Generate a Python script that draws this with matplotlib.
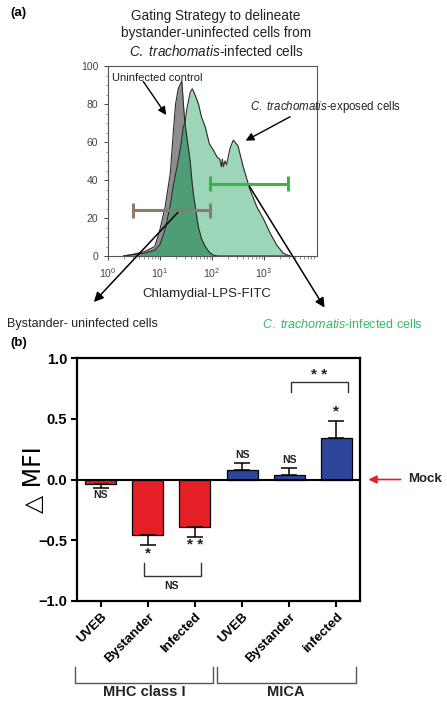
import matplotlib
matplotlib.use("Agg")
import matplotlib.pyplot as plt
import numpy as np

plt.rcParams['font.family'] = ['Liberation Sans', 'DejaVu Sans']
plt.rcParams['mathtext.fontset'] = 'custom'
plt.rcParams['mathtext.rm'] = 'Liberation Sans'
plt.rcParams['mathtext.it'] = 'Liberation Sans:italic'

# ---- panel (a): histogram (x as log10 of FITC) ----
hist_log = [0.30, 0.50, 0.70, 0.90, 1.00, 1.10, 1.20, 1.25, 1.30, 1.35, 1.40, 1.42,
            1.45, 1.48, 1.52, 1.58, 1.62, 1.64, 1.70, 1.74, 1.80, 1.87, 1.95, 2.02,
            2.10, 2.15, 2.18, 2.20, 2.22, 2.25, 2.28, 2.35, 2.41, 2.50, 2.60, 2.73,
            2.86, 3.00, 3.12, 3.24, 3.37, 3.50]
uninfected = [0, 1, 2.3, 5, 14, 26, 44, 63, 80, 88, 91, 92,
              80, 70, 62, 50, 38, 33, 22, 15, 9, 5, 2, 0.5,
              0, 0, 0, 0, 0, 0, 0, 0, 0, 0, 0, 0,
              0, 0, 0, 0, 0, 0]
exposed = [0, 0.8, 1.5, 3, 6, 14, 27, 36, 43, 50, 58, 62,
           68, 70, 78, 86, 88, 87, 83, 80, 73, 68, 59, 56,
           52, 51, 47, 51, 47, 50, 48, 57, 61, 58, 47, 35,
           26, 19, 12, 6, 1.4, 0]
gate_bystander = [3, 92]
gate_bystander_y = 24
gate_infected = [92, 2900]
gate_infected_y = 38

# ---- panel (b): delta MFI ----
categories = ['UVEB', 'Bystander', 'Infected', 'UVEB', 'Bystander', 'infected']
delta_mfi = [-0.036, -0.453, -0.387, 0.082, 0.038, 0.345]
sem = [0.034, 0.090, 0.088, 0.055, 0.058, 0.138]
bar_colors = ['#e41f26'] * 3 + ['#2c459a'] * 3
groups = ['MHC class I', 'MICA']

W, H = 447, 704
fig = plt.figure(figsize=(W / 100, H / 100), dpi=100)


def px(x, y):
    return x / W, 1 - y / H


CT = r'$\mathit{C.\ trachomatis}$'

# ================= (a) =================
ax1 = fig.add_axes([108 / W, 1 - 256 / H, 209 / W, 190 / H])
xs = 10 ** np.array(hist_log)
g = np.array(uninfected)
e = np.array(exposed)
ax1.fill_between(xs, g, color='#8e8e8e', lw=0)
ax1.fill_between(xs, e, color='#9dd5b8', lw=0)
ax1.fill_between(xs, np.minimum(g, e), color='#4f9d76', lw=0)
ax1.plot(xs, g, color='#2b2b2b', lw=0.8)
ax1.plot(xs, e, color='#2b2b2b', lw=0.8)

ax1.plot(gate_bystander, [gate_bystander_y] * 2, color='#8c7a6c', lw=2.2)
ax1.vlines(gate_bystander, gate_bystander_y - 4, gate_bystander_y + 4, color='#8c7a6c', lw=2.2)
ax1.plot(gate_infected, [gate_infected_y] * 2, color='#3ab54a', lw=2.2)
ax1.vlines(gate_infected, gate_infected_y - 4, gate_infected_y + 4, color='#3ab54a', lw=2.2)

ax1.set_xscale('log')
ax1.set_xlim(1, 10 ** 4.02)
ax1.set_ylim(0, 100)
ax1.set_xticks([1, 10, 100, 1000])
ax1.set_xticklabels([r'$10^{0}$', r'$10^{1}$', r'$10^{2}$', r'$10^{3}$'])
ax1.set_yticks([0, 20, 40, 60, 80, 100])
ax1.set_yticks(np.arange(0, 101, 5), minor=True)
for s in ax1.spines.values():
    s.set_color('#555555')
    s.set_linewidth(0.8)
ax1.tick_params(labelsize=7.5, colors='#444444', length=3, width=0.7, pad=4)
ax1.tick_params(which='minor', length=1.8, width=0.5, colors='#666666')
ax1.set_xlabel('Chlamydial-LPS-FITC', fontsize=9.5, color='#222222', labelpad=8)
ax1.xaxis.set_label_coords(0.475, -0.17)

ax1.text(0.02, 0.965, 'Uninfected control', transform=ax1.transAxes, fontsize=8,
         va='top', ha='left', color='#222222')
ax1.annotate('', xy=(10 ** 1.15, 73), xytext=(10 ** 0.65, 93),
             arrowprops=dict(arrowstyle='-|>', color='black', lw=1, mutation_scale=12))
fig.text(*px(250, 107), CT + '-exposed cells', fontsize=8.3,
         va='center', ha='left', color='#222222')
ax1.annotate('', xy=(10 ** 2.6, 60), xytext=(10 ** 3.55, 74),
             arrowprops=dict(arrowstyle='-|>', color='black', lw=1, mutation_scale=12))

ax1.annotate('', xy=px(92, 304), xycoords='figure fraction',
             xytext=(10 ** 1.38, gate_bystander_y), textcoords='data',
             arrowprops=dict(arrowstyle='-|>', color='black', lw=1.1, mutation_scale=14))
ax1.annotate('', xy=px(326, 310), xycoords='figure fraction',
             xytext=(10 ** 2.69, gate_infected_y), textcoords='data',
             arrowprops=dict(arrowstyle='-|>', color='black', lw=1.1, mutation_scale=14))

fig.text(*px(216, 16), 'Gating Strategy to delineate', fontsize=9.8, ha='center', va='center', color='#222222')
fig.text(*px(216, 33), 'bystander-uninfected cells from', fontsize=9.8, ha='center', va='center', color='#222222')
fig.text(*px(216, 51), CT + '-infected cells', fontsize=9.8, ha='center', va='center',
         color='#222222')
fig.text(*px(7, 324), 'Bystander- uninfected cells', fontsize=9, ha='left', va='center', color='#222222')
fig.text(*px(262, 324), CT + '-infected cells', fontsize=9, ha='left', va='center',
         color='#3ab56a')
fig.text(*px(10, 13), '(a)', fontsize=9.5, weight='bold', ha='left', va='center')
fig.text(*px(10, 343), '(b)', fontsize=9.5, weight='bold', ha='left', va='center')

# ================= (b) =================
ax2 = fig.add_axes([77 / W, 1 - 601 / H, 283 / W, 243 / H])
pos = np.arange(len(categories))
ax2.bar(pos, delta_mfi, width=0.66, color=bar_colors, edgecolor='black', lw=0.9, zorder=2)
lower = [s if v < 0 else 0 for v, s in zip(delta_mfi, sem)]
upper = [s if v > 0 else 0 for v, s in zip(delta_mfi, sem)]
ax2.errorbar(pos, delta_mfi, yerr=[lower, upper], fmt='none', ecolor='black',
             elinewidth=1.1, capsize=6, capthick=1.1, zorder=3)
ax2.axhline(0, color='black', lw=1.5, zorder=4)

ax2.set_xlim(-0.5, 5.5)
ax2.set_ylim(-1, 1)
ax2.set_yticks([-1, -0.5, 0, 0.5, 1])
ax2.set_yticklabels(['\u22121.0', '\u22120.5', '0.0', '0.5', '1.0'])
ax2.set_xticks(pos)
ax2.set_xticklabels(categories, rotation=45, ha='right', rotation_mode='anchor')
for s in ax2.spines.values():
    s.set_linewidth(1.6)
ax2.tick_params(width=1.5, length=4, labelsize=9.5, pad=3)
ax2.tick_params(axis='y', labelsize=10.5)
for lab in ax2.get_xticklabels() + ax2.get_yticklabels():
    lab.set_fontweight('bold')
ax2.set_ylabel('\u25b3 MFI', fontsize=17, family=['DejaVu Sans'])
ax2.yaxis.set_label_coords(-0.11, 0.5)

kw = dict(ha='center', fontweight='bold', color='#222222')
ax2.text(0, -0.085, 'NS', va='top', fontsize=7.5, **kw)
ax2.text(1, -0.555, '*', va='top', fontsize=11, **kw)
ax2.text(2, -0.485, '* *', va='top', fontsize=11, **kw)
ax2.plot([0.91, 0.91, 2.12, 2.12], [-0.69, -0.795, -0.795, -0.69], color='#333333', lw=1)
ax2.text(1.5, -0.835, 'NS', va='top', fontsize=7.5, **kw)
ax2.text(3, 0.16, 'NS', va='bottom', fontsize=7.5, **kw)
ax2.text(4, 0.12, 'NS', va='bottom', fontsize=7.5, **kw)
ax2.text(5, 0.50, '*', va='bottom', fontsize=11, **kw)
ax2.plot([4.03, 4.03, 5.25, 5.25], [0.72, 0.80, 0.80, 0.72], color='#333333', lw=1)
ax2.text(4.64, 0.80, '* *', va='bottom', fontsize=11, **kw)

ax2.annotate('', xy=(5.62, 0), xytext=(6.42, 0), xycoords='data',
             arrowprops=dict(arrowstyle='-|>', color='#e41f26', lw=1.2, mutation_scale=12),
             annotation_clip=False)
ax2.text(6.52, 0, 'Mock', fontsize=9.5, fontweight='bold', va='center', ha='left', color='#222222')

tr = ax2.get_xaxis_transform()
for (x0, x1), name in zip([(-0.54, 2.39), (2.46, 5.41)], groups):
    ax2.plot([x0, x0, x1, x1], [-0.272, -0.337, -0.337, -0.272], transform=tr,
             color='#555555', lw=1, clip_on=False)
    ax2.text((x0 + x1) / 2, -0.375, name, transform=tr, fontsize=10.5, fontweight='bold',
             ha='center', va='center', color='#222222')

fig.savefig('out.png', dpi=100)
